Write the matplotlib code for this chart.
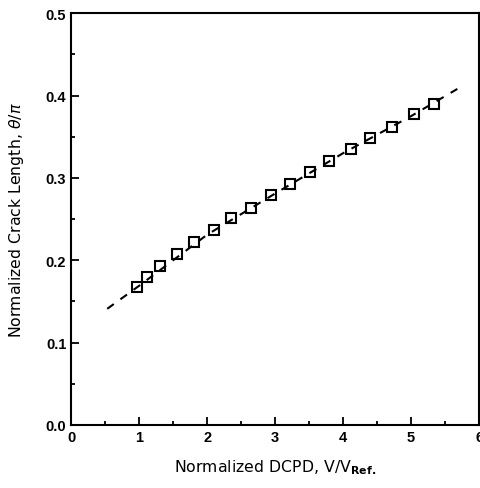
import numpy as np
import matplotlib.pyplot as plt
from matplotlib.ticker import MultipleLocator

# measured points (normalized DCPD vs normalized crack length)
dcpd = [0.97, 1.11, 1.30, 1.55, 1.80, 2.10, 2.35, 2.64, 2.94, 3.22,
        3.51, 3.79, 4.11, 4.39, 4.72, 5.05, 5.34]
crack = [0.168, 0.180, 0.193, 0.208, 0.222, 0.237, 0.251, 0.264, 0.279, 0.292,
         0.307, 0.321, 0.335, 0.348, 0.362, 0.377, 0.390]

# dashed calibration curve
fit_x = [0.53, 1.0, 2.0, 3.0, 4.0, 5.0, 5.68]
fit_y = [0.141, 0.169, 0.231, 0.281, 0.330, 0.375, 0.408]

fig = plt.figure(figsize=(4.81, 4.89), dpi=100)
ax = fig.add_axes([0.148, 0.129, 0.848, 0.842])

ax.plot(fit_x, fit_y, color='black', lw=1.5, dashes=(3.9, 3.9))
ax.plot(dcpd, crack, ls='none', marker='s', ms=7, mfc='none',
        mec='black', mew=1.5)

ax.set_xlim(0, 6)
ax.set_ylim(0, 0.5)
ax.xaxis.set_major_locator(MultipleLocator(1))
ax.xaxis.set_minor_locator(MultipleLocator(0.5))
ax.yaxis.set_major_locator(MultipleLocator(0.1))
ax.yaxis.set_minor_locator(MultipleLocator(0.05))
ax.yaxis.set_major_formatter(plt.FormatStrFormatter('%.1f'))
ax.tick_params(which='both', direction='in', top=False, right=False, width=1.3)
ax.tick_params(which='major', length=5.5)
ax.tick_params(which='minor', length=3)
for lab in ax.get_xticklabels() + ax.get_yticklabels():
    lab.set_fontfamily('Liberation Sans')
    lab.set_fontweight('bold')
    lab.set_fontsize(10.5)
for s in ax.spines.values():
    s.set_linewidth(1.5)

ax.set_xlabel(r'Normalized DCPD, V/V$_{\mathbf{Ref.}}$', fontsize=11.3, labelpad=10)
ax.set_ylabel(r'Normalized Crack Length, $\theta/\pi$', fontsize=11.3, labelpad=14)

plt.savefig('out.png', dpi=100)
